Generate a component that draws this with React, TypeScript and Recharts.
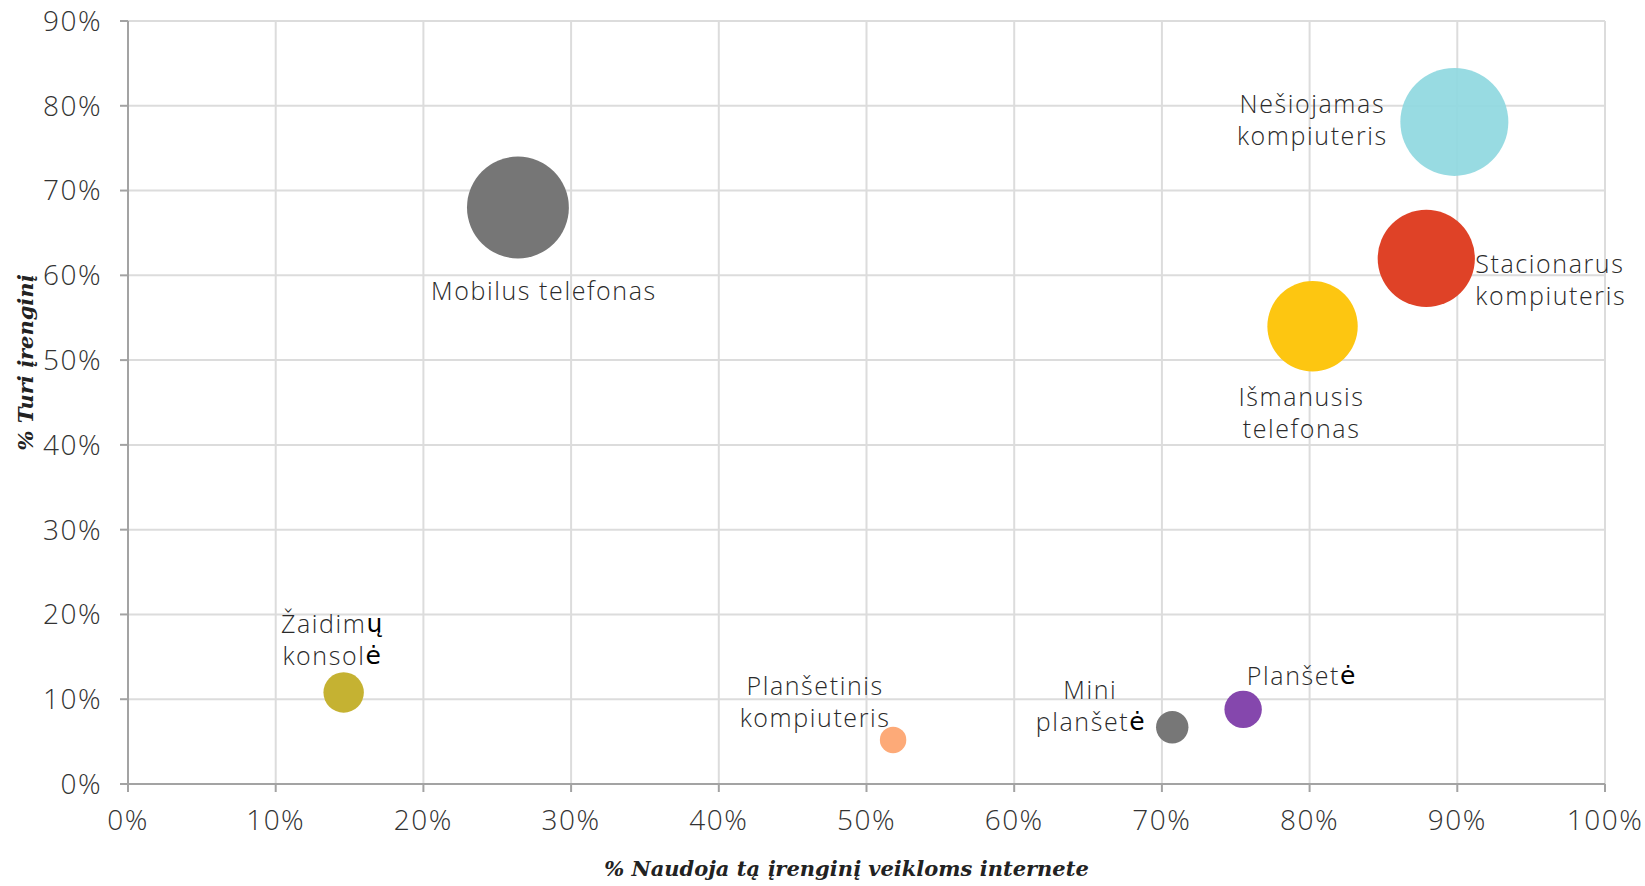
import React from "react";
import { ScatterChart, Scatter, XAxis, YAxis, ZAxis, CartesianGrid } from "recharts";

// share of people using the device for online activities (x) vs owning it (y)
const devices = [
    "Mobilus telefonas",
    "Nešiojamas kompiuteris",
    "Stacionarus kompiuteris",
    "Išmanusis telefonas",
    "Žaidimų konsolė",
    "Planšetinis kompiuteris",
    "Mini planšetė",
    "Planšetė",
];
const usePct = [26.4, 89.8, 87.9, 80.2, 14.6, 51.8, 70.7, 75.5];
const ownPct = [68, 78.1, 62, 54, 10.8, 5.2, 6.7, 8.8];
const bubbleSize = [89, 100, 81, 70, 14, 6, 9, 12];
const labelLines = [
    ["Mobilus telefonas"],
    ["Nešiojamas", "kompiuteris"],
    ["Stacionarus", "kompiuteris"],
    ["Išmanusis", "telefonas"],
    ["Žaidimų", "konsolė"],
    ["Planšetinis", "kompiuteris"],
    ["Mini", "planšetė"],
    ["Planšetė"],
];
const xTicks = [0, 10, 20, 30, 40, 50, 60, 70, 80, 90, 100];
const yTicks = [0, 10, 20, 30, 40, 50, 60, 70, 80, 90];

const colors = ["#767676", "#8fd8e0", "#df4227", "#fdc611", "#c5b232", "#fdaa78", "#777777", "#8547ad"];
const opacities = [1, 0.92, 1, 1, 1, 1, 1, 1];
// label placement relative to bubble centre (first line centre)
const labelPos = [
    { dx: 26, dy: 82, anchor: "middle" },
    { dx: -142, dy: -19, anchor: "middle" },
    { dx: 49, dy: 5, anchor: "start" },
    { dx: -11, dy: 70, anchor: "middle" },
    { dx: -12, dy: -69, anchor: "middle" },
    { dx: -78, dy: -55, anchor: "middle" },
    { dx: -82, dy: -38, anchor: "middle" },
    { dx: 58, dy: -34, anchor: "middle" },
];

const data = devices.map((name, i) => ({
    name,
    x: usePct[i],
    y: ownPct[i],
    z: bubbleSize[i],
    idx: i,
}));

const FONT = "'Open Sans', Lato, sans-serif";
const LINE_H = 32;

// the original font lacks ė / ų, so those fall back to a heavier face
const renderChars = (s: string) =>
    s.split(/([ėų])/).filter(Boolean).map((part, k) =>
        part === "ė" || part === "ų" ? (
            <tspan key={k} fontFamily="'DejaVu Sans', sans-serif" fontWeight={400} fill="#000" letterSpacing={0}>
                {part}
            </tspan>
        ) : (
            <tspan key={k}>{part}</tspan>
        )
    );

const Bubble = (props: any) => {
    const { cx, cy, payload } = props;
    const i = payload.idx;
    const r = props.width ? props.width / 2 : Math.sqrt((props.size || 0) / Math.PI);
    const pos = labelPos[i];
    return (
        <g>
            <circle cx={cx} cy={cy} r={r} fill={colors[i]} fillOpacity={opacities[i]} />
            {labelLines[i].map((line, k) => (
                <text
                    key={k}
                    x={cx + pos.dx}
                    y={cy + pos.dy + k * LINE_H}
                    textAnchor={pos.anchor as any}
                    dominantBaseline="central"
                    fontFamily={FONT}
                    fontWeight={300}
                    fontSize={25}
                    letterSpacing={1.6}
                    fill="#2a2a2a"
                >
                    {renderChars(line)}
                </text>
            ))}
        </g>
    );
};

const tickStyle = { fill: "#333", fontSize: 28, fontFamily: FONT, fontWeight: 300, letterSpacing: 1.5 };

const XTitle = (props: any) => {
    const vb = props.viewBox;
    return (
        <text
            x={vb.x + vb.width / 2 - 20}
            y={vb.y + 92}
            textAnchor="middle"
            fontFamily="'DejaVu Serif', serif"
            fontStyle="italic"
            fontWeight={600}
            fontSize={21}
            fill="#222"
        >
            % Naudoja tą įrenginį veikloms internete
        </text>
    );
};

const YTitle = (props: any) => {
    const vb = props.viewBox;
    const x = 25;
    const y = vb.y + vb.height / 2 - 40;
    return (
        <text
            x={x}
            y={y}
            transform={`rotate(-90, ${x}, ${y})`}
            textAnchor="middle"
            dominantBaseline="central"
            fontFamily="'DejaVu Serif', serif"
            fontStyle="italic"
            fontWeight={600}
            fontSize={21}
            fill="#222"
        >
            % Turi įrenginį
        </text>
    );
};

export default function App() {
    return (
        <div style={{ position: "absolute", left: 0, top: 0, background: "#fff" }}>
            <ScatterChart width={1645} height={886} margin={{ top: 21, right: 40, left: 0, bottom: 0 }}>
                <CartesianGrid stroke="#dcdcdc" strokeWidth={2} />
                <XAxis
                    type="number"
                    dataKey="x"
                    domain={[0, 100]}
                    ticks={xTicks}
                    interval={0}
                    tickFormatter={(v) => `${v}%`}
                    height={102}
                    tick={tickStyle}
                    tickSize={8}
                    tickMargin={18}
                    stroke="#a3a3a3"
                    strokeWidth={2}
                    label={<XTitle />}
                />
                <YAxis
                    type="number"
                    dataKey="y"
                    domain={[0, 90]}
                    ticks={yTicks}
                    interval={0}
                    tickFormatter={(v) => `${v}%`}
                    width={128}
                    tick={tickStyle}
                    tickSize={8}
                    tickMargin={18}
                    stroke="#a3a3a3"
                    strokeWidth={2}
                    label={<YTitle />}
                />
                <ZAxis type="number" dataKey="z" domain={[0, 100]} range={[0, Math.PI * 54 * 54]} />
                <Scatter data={data} shape={<Bubble />} isAnimationActive={false} />
            </ScatterChart>
        </div>
    );
}
